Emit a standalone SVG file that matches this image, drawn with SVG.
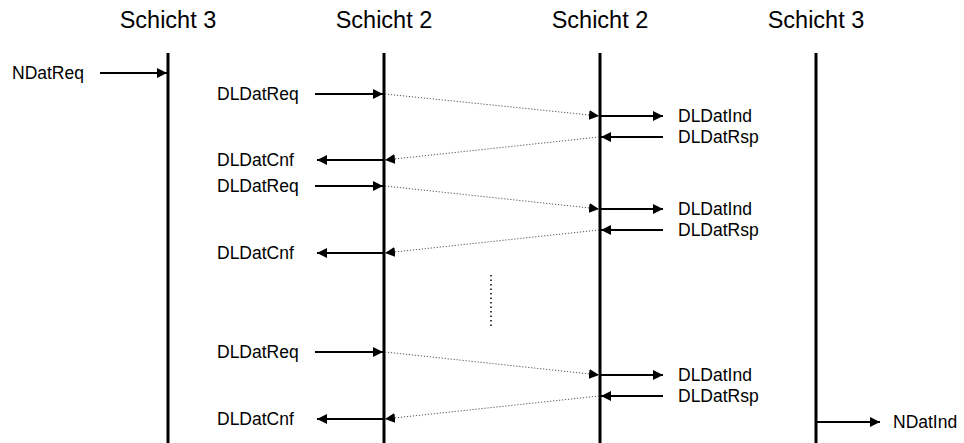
<svg xmlns="http://www.w3.org/2000/svg" width="964" height="443" viewBox="0 0 964 443">
<style>
.hdr{font-family:"Liberation Sans",Arial,sans-serif;font-size:23.5px;fill:#000;text-anchor:middle}
.lbl{font-family:"Liberation Sans",Arial,sans-serif;font-size:17.5px;fill:#000}
.life{stroke:#000;stroke-width:3;fill:none}
.msg{stroke:#000;stroke-width:2;fill:none;marker-end:url(#ah)}
.dot{stroke:#555;stroke-width:1;stroke-dasharray:1.2 1.8;fill:none;marker-end:url(#ahs)}
</style>
<defs>
<marker id="ah" viewBox="0 0 10 10" refX="10" refY="5" markerWidth="10" markerHeight="10" markerUnits="userSpaceOnUse" orient="auto">
<path d="M0,0 L10,5 L0,10 Z" fill="#000"/>
</marker>
<marker id="ahs" viewBox="0 0 10 10" refX="10" refY="5" markerWidth="10" markerHeight="10" markerUnits="userSpaceOnUse" orient="auto">
<path d="M0,0 L10,5 L0,10 Z" fill="#000"/>
</marker>
</defs>
<g id="lifeline-s3-left"><text class="hdr" x="168" y="28">Schicht 3</text><line class="life" x1="168" y1="53" x2="168" y2="443"/></g>
<g id="lifeline-s2-left"><text class="hdr" x="384" y="28">Schicht 2</text><line class="life" x1="384" y1="53" x2="384" y2="443"/></g>
<g id="lifeline-s2-right"><text class="hdr" x="600" y="28">Schicht 2</text><line class="life" x1="600" y1="53" x2="600" y2="443"/></g>
<g id="lifeline-s3-right"><text class="hdr" x="816" y="28">Schicht 3</text><line class="life" x1="816" y1="53" x2="816" y2="443"/></g>
<g id="labels">
<text class="lbl" x="12" y="79">NDatReq</text>
<text class="lbl" x="217" y="100">DLDatReq</text>
<text class="lbl" x="678" y="122">DLDatInd</text>
<text class="lbl" x="678" y="143">DLDatRsp</text>
<text class="lbl" x="217" y="166">DLDatCnf</text>
<text class="lbl" x="217" y="192">DLDatReq</text>
<text class="lbl" x="678" y="215">DLDatInd</text>
<text class="lbl" x="678" y="236">DLDatRsp</text>
<text class="lbl" x="217" y="259">DLDatCnf</text>
<text class="lbl" x="217" y="358">DLDatReq</text>
<text class="lbl" x="678" y="381">DLDatInd</text>
<text class="lbl" x="678" y="402">DLDatRsp</text>
<text class="lbl" x="217" y="425">DLDatCnf</text>
<text class="lbl" x="893" y="428">NDatInd</text>
</g>
<g id="connectors">
<line class="msg" x1="100" y1="73" x2="167" y2="73"/>
<line class="msg" x1="315" y1="94" x2="383" y2="94"/>
<line class="dot" x1="385" y1="94" x2="599" y2="116"/>
<line class="msg" x1="600" y1="116" x2="663" y2="116"/>
<line class="msg" x1="663" y1="137" x2="601" y2="137"/>
<line class="dot" x1="599" y1="137" x2="385" y2="160"/>
<line class="msg" x1="384" y1="160" x2="317" y2="160"/>
<line class="msg" x1="315" y1="186" x2="383" y2="186"/>
<line class="dot" x1="385" y1="186" x2="599" y2="209"/>
<line class="msg" x1="600" y1="209" x2="663" y2="209"/>
<line class="msg" x1="663" y1="230" x2="601" y2="230"/>
<line class="dot" x1="599" y1="230" x2="385" y2="253"/>
<line class="msg" x1="384" y1="253" x2="317" y2="253"/>
<line class="msg" x1="315" y1="352" x2="383" y2="352"/>
<line class="dot" x1="385" y1="352" x2="599" y2="375"/>
<line class="msg" x1="600" y1="375" x2="663" y2="375"/>
<line class="msg" x1="663" y1="396" x2="601" y2="396"/>
<line class="dot" x1="599" y1="396" x2="385" y2="419"/>
<line class="msg" x1="384" y1="419" x2="317" y2="419"/>
<line class="msg" x1="816" y1="422" x2="880" y2="422"/>
<line x1="491" y1="275" x2="491" y2="329" stroke="#000" stroke-width="1.5" stroke-dasharray="1.5 3"/>
</g>
</svg>
